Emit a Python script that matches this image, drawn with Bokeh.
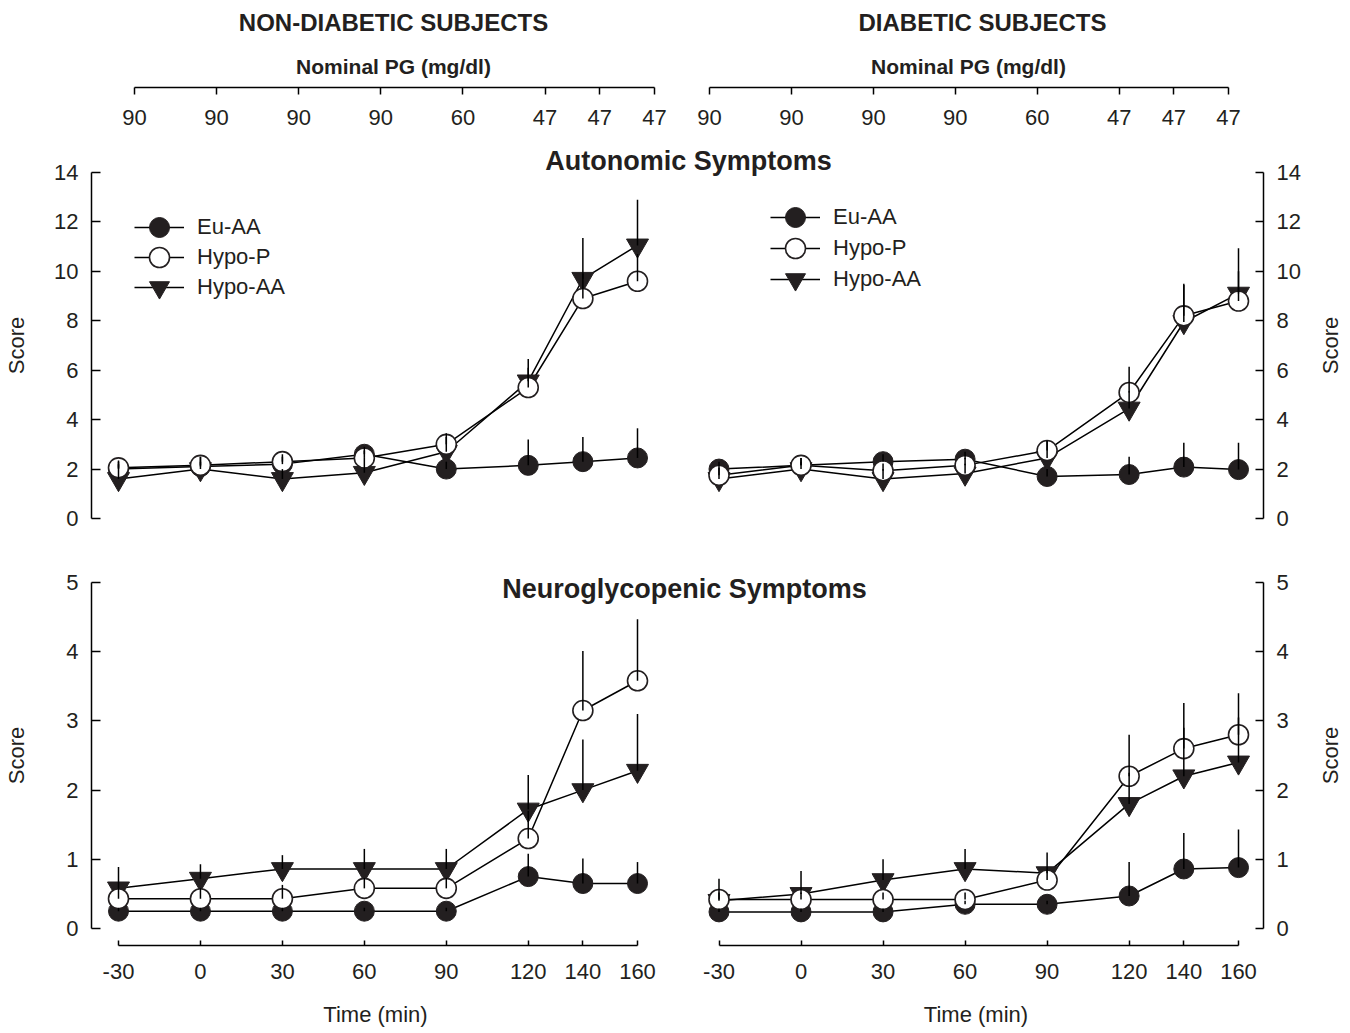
import math
from bokeh.plotting import figure
from bokeh.layouts import column, row
from bokeh.models import Range1d, FixedTicker, Legend, LegendItem, Label, LinearAxis
from bokeh.embed import file_html
from bokeh.resources import INLINE

# ---------------- data ----------------
time_min = [-30, 0, 30, 60, 90, 120, 140, 160]
time_labels = ["-30", "0", "30", "60", "90", "120", "140", "160"]
nominal_pg = ["90", "90", "90", "90", "60", "47", "47", "47"]
series_names = ["Eu-AA", "Hypo-P", "Hypo-AA"]

# Autonomic symptoms - non-diabetic subjects
aut_nd_eu = [2.0, 2.1, 2.2, 2.6, 2.0, 2.15, 2.3, 2.45]
aut_nd_eu_sem = [0.3, 0.4, 0.3, 0.3, 0.3, 1.05, 1.0, 1.2]
aut_nd_hp = [2.05, 2.15, 2.3, 2.45, 3.0, 5.3, 8.9, 9.6]
aut_nd_hp_sem = [0.3, 0.35, 0.3, 0.3, 0.45, 0.8, 1.0, 1.1]
aut_nd_ha = [1.6, 2.0, 1.6, 1.85, 2.7, 5.55, 9.7, 11.05]
aut_nd_ha_sem = [0.6, 0.3, 0.4, 0.6, 0.6, 0.9, 1.65, 1.85]

# Autonomic symptoms - diabetic subjects
aut_d_eu = [2.0, 2.15, 2.3, 2.4, 1.7, 1.78, 2.08, 1.98]
aut_d_eu_sem = [0.3, 0.3, 0.3, 0.3, 0.3, 0.72, 0.98, 1.08]
aut_d_hp = [1.75, 2.15, 1.93, 2.15, 2.75, 5.1, 8.2, 8.8]
aut_d_hp_sem = [0.3, 0.3, 0.3, 0.3, 0.4, 1.04, 1.3, 1.2]
aut_d_ha = [1.6, 2.0, 1.6, 1.82, 2.45, 4.45, 7.95, 9.1]
aut_d_ha_sem = [0.4, 0.3, 0.4, 0.4, 0.7, 0.7, 1.5, 1.83]

# Neuroglycopenic symptoms - non-diabetic subjects
neu_nd_eu = [0.25, 0.25, 0.25, 0.25, 0.25, 0.75, 0.65, 0.65]
neu_nd_eu_sem = [0.05, 0.05, 0.05, 0.05, 0.05, 0.33, 0.36, 0.31]
neu_nd_hp = [0.43, 0.43, 0.43, 0.58, 0.58, 1.3, 3.15, 3.58]
neu_nd_hp_sem = [0.15, 0.15, 0.2, 0.15, 0.15, 0.4, 0.86, 0.89]
neu_nd_ha = [0.58, 0.72, 0.86, 0.86, 0.86, 1.72, 2.0, 2.28]
neu_nd_ha_sem = [0.31, 0.21, 0.2, 0.29, 0.29, 0.5, 0.73, 0.82]

# Neuroglycopenic symptoms - diabetic subjects
neu_d_eu = [0.24, 0.24, 0.24, 0.35, 0.35, 0.47, 0.86, 0.88]
neu_d_eu_sem = [0.05, 0.05, 0.05, 0.05, 0.05, 0.49, 0.52, 0.55]
neu_d_hp = [0.42, 0.42, 0.42, 0.42, 0.7, 2.2, 2.6, 2.8]
neu_d_hp_sem = [0.1, 0.1, 0.1, 0.1, 0.15, 0.6, 0.66, 0.6]
neu_d_ha = [0.4, 0.5, 0.7, 0.86, 0.8, 1.8, 2.2, 2.4]
neu_d_ha_sem = [0.32, 0.33, 0.3, 0.29, 0.3, 0.45, 0.7, 0.65]

aut_ticks = [0, 2, 4, 6, 8, 10, 12, 14]
neu_ticks = [0, 1, 2, 3, 4, 5]

# ---------------- style / layout (page pixels) ----------------
FONT = "Liberation Sans"
INK = "#231f20"
LW = 1.5

PAGE_X0, PAGE_X1 = 0, 1345
PANEL_X0, PANEL_X1 = 50, 1305          # panel canvases; score strips on either side
FRAME_L, FRAME_R, SPLIT = 91, 1263, 688
TOP_AXIS_Y = 87
BOT_AXIS_Y = 945
TOP_STRIP = (0, 135)
TOP_FIG = (135, 540)
BOT_FIG = (540, 940)
BOT_STRIP = (940, 1033)


def lin(v0, p0, v1, p1):
    s = (v1 - v0) / (p1 - p0)
    return lambda p: v0 + (p - p0) * s


xl = lin(-30, 118, 160, 637)      # left panels
xr = lin(-30, 718.5, 160, 1238)   # right panels
xtl = lin(-30, 134, 160, 654)     # nominal PG axis, left
xtr = lin(-30, 709, 160, 1228)    # nominal PG axis, right
yt = lin(0, 518, 14, 172)
yb = lin(0, 928, 5, 582)


def base_fig(width, height, xrange, yrange, bl, br, bt, bb, **kw):
    p = figure(width=width, height=height, x_range=xrange, y_range=yrange,
               min_border_left=bl, min_border_right=br, min_border_top=bt,
               min_border_bottom=bb, toolbar_location=None, output_backend="svg", **kw)
    p.outline_line_color = None
    p.grid.visible = False
    p.background_fill_color = "white"
    p.border_fill_color = "white"
    return p


def style_axis(ax, tick_in, tick_out, standoff):
    ax.axis_line_color = "black"
    ax.axis_line_width = LW
    ax.major_tick_line_color = "black"
    ax.major_tick_line_width = LW
    ax.major_tick_in = tick_in
    ax.major_tick_out = tick_out
    ax.minor_tick_line_color = None
    ax.major_label_standoff = standoff
    ax.major_label_text_font = FONT
    ax.major_label_text_font_size = "22px"
    ax.major_label_text_color = INK
    ax.axis_label_text_font = FONT
    ax.axis_label_text_font_size = "22px"
    ax.axis_label_text_font_style = "normal"
    ax.axis_label_text_color = INK


def draw_panel(p, xname, eu, eu_sem, hp, hp_sem, ha, ha_sem):
    kw = {} if xname is None else {"x_range_name": xname}
    l_eu = p.line(time_min, eu, line_color="black", line_width=LW, **kw)
    l_hp = p.line(time_min, hp, line_color="black", line_width=LW, **kw)
    l_ha = p.line(time_min, ha, line_color="black", line_width=LW, **kw)
    m_eu = p.scatter(time_min, eu, marker="circle", size=20, fill_color=INK,
                     line_color=INK, line_width=1, **kw)
    m_ha = p.scatter(time_min, ha, marker="inverted_triangle", size=22, fill_color=INK,
                     line_color=INK, line_width=1, **kw)
    m_hp = p.scatter(time_min, hp, marker="circle", size=20, fill_color="white",
                     line_color=INK, line_width=1.6, **kw)
    for ys, es in ((eu, eu_sem), (hp, hp_sem), (ha, ha_sem)):
        top = [y + e for y, e in zip(ys, es)]
        p.segment(time_min, ys, time_min, top, line_color="black", line_width=LW, **kw)
    return [(series_names[0], l_eu, m_eu), (series_names[1], l_hp, m_hp),
            (series_names[2], l_ha, m_ha)]


def add_legend(p, entries, left_px, row_centers, frame_bottom):
    # one legend box per entry so that rows can sit closer than the glyph box
    for (name, l, m), c in zip(entries, row_centers):
        leg = Legend(items=[LegendItem(label=name, renderers=[l, m])],
                     location=(left_px - FRAME_L, frame_bottom - (c + 25)),
                     orientation="vertical", glyph_width=50, glyph_height=50,
                     label_height=24, label_standoff=13, spacing=0, padding=0, margin=0,
                     border_line_color=None, background_fill_alpha=0,
                     label_text_font=FONT, label_text_font_size="22px",
                     label_text_color=INK)
        p.add_layout(leg)


def panel_fig(y0, y1, ymap, ticks):
    p = base_fig(PANEL_X1 - PANEL_X0, y1 - y0, Range1d(xl(FRAME_L), xl(FRAME_R)),
                 Range1d(ymap(y1), ymap(y0)), FRAME_L - PANEL_X0, PANEL_X1 - FRAME_R, 0, 0,
                 x_axis_location=None, y_axis_location="left")
    p.extra_x_ranges = {"R": Range1d(xr(FRAME_L), xr(FRAME_R))}
    ax = p.yaxis[0]
    ax.ticker = FixedTicker(ticks=ticks)
    ax.bounds = (ticks[0], ticks[-1])
    style_axis(ax, 9, 0, 13)
    rax = LinearAxis(ticker=FixedTicker(ticks=ticks), bounds=(ticks[0], ticks[-1]))
    style_axis(rax, 8, 0, 13)
    p.add_layout(rax, "right")
    return p


def score_strip(c0, c1, y0, y1, ymap, cx, cy):
    p = base_fig(c1 - c0, y1 - y0, Range1d(c0, c1), Range1d(ymap(y1), ymap(y0)), 0, 0, 0, 0,
                 x_axis_location=None, y_axis_location=None)
    p.add_layout(Label(x=cx, y=ymap(cy), text="Score", angle=math.pi / 2,
                       text_align="center", text_baseline="middle", text_font=FONT,
                       text_font_size="22px", text_color=INK))
    return p


# ---------------- top strips (nominal PG axes) ----------------
def top_strip(c0, c1, fl, fr, fmap, head, head_px, pg_px):
    y0, y1 = TOP_STRIP
    p = base_fig(c1 - c0, y1 - y0, Range1d(fmap(fl), fmap(fr)), Range1d(0, TOP_AXIS_Y - y0),
                 fl - c0, c1 - fr, 0, y1 - TOP_AXIS_Y, y_axis_location=None)
    ax = p.xaxis[0]
    ax.ticker = FixedTicker(ticks=time_min)
    ax.major_label_overrides = {t: s for t, s in zip(time_min, nominal_pg)}
    ax.bounds = (time_min[0], time_min[-1])
    style_axis(ax, 0, 7, 15)
    p.add_layout(Label(x=fmap(head_px), y=TOP_AXIS_Y - 22, text=head, text_align="center",
                       text_baseline="middle", text_font=FONT, text_font_size="24px",
                       text_font_style="bold", text_color=INK))
    p.add_layout(Label(x=fmap(pg_px), y=TOP_AXIS_Y - 66, text="Nominal PG (mg/dl)",
                       text_align="center", text_baseline="middle", text_font=FONT,
                       text_font_size="21px", text_font_style="bold", text_color=INK))
    return p


ts_left = top_strip(PAGE_X0, SPLIT, FRAME_L, SPLIT, xtl, "NON-DIABETIC SUBJECTS", 393, 393)
ts_right = top_strip(SPLIT, PAGE_X1, SPLIT, FRAME_R, xtr, "DIABETIC SUBJECTS", 982, 968)

# ---------------- autonomic panels ----------------
p_aut = panel_fig(TOP_FIG[0], TOP_FIG[1], yt, aut_ticks)
ent_l = draw_panel(p_aut, None, aut_nd_eu, aut_nd_eu_sem, aut_nd_hp, aut_nd_hp_sem,
                   aut_nd_ha, aut_nd_ha_sem)
ent_r = draw_panel(p_aut, "R", aut_d_eu, aut_d_eu_sem, aut_d_hp, aut_d_hp_sem,
                   aut_d_ha, aut_d_ha_sem)
add_legend(p_aut, ent_l, 134, [227, 257, 287], TOP_FIG[1])
add_legend(p_aut, ent_r, 770, [217, 248, 279], TOP_FIG[1])
p_aut.add_layout(Label(x=xl(688), y=yt(160), text="Autonomic Symptoms", text_align="center",
                       text_baseline="middle", text_font=FONT, text_font_size="27px",
                       text_font_style="bold", text_color=INK))
sl_aut = score_strip(PAGE_X0, PANEL_X0, TOP_FIG[0], TOP_FIG[1], yt, 16, 345)
sr_aut = score_strip(PANEL_X1, PAGE_X1, TOP_FIG[0], TOP_FIG[1], yt, 1330, 345)

# ---------------- neuroglycopenic panels ----------------
p_neu = panel_fig(BOT_FIG[0], BOT_FIG[1], yb, neu_ticks)
draw_panel(p_neu, None, neu_nd_eu, neu_nd_eu_sem, neu_nd_hp, neu_nd_hp_sem,
           neu_nd_ha, neu_nd_ha_sem)
draw_panel(p_neu, "R", neu_d_eu, neu_d_eu_sem, neu_d_hp, neu_d_hp_sem,
           neu_d_ha, neu_d_ha_sem)
p_neu.add_layout(Label(x=xl(684), y=yb(588), text="Neuroglycopenic Symptoms",
                       text_align="center", text_baseline="middle", text_font=FONT,
                       text_font_size="27px", text_font_style="bold", text_color=INK))
sl_neu = score_strip(PAGE_X0, PANEL_X0, BOT_FIG[0], BOT_FIG[1], yb, 16, 755)
sr_neu = score_strip(PANEL_X1, PAGE_X1, BOT_FIG[0], BOT_FIG[1], yb, 1330, 755)


# ---------------- bottom strips (time axes) ----------------
def bottom_strip(c0, c1, fl, fr, fmap):
    y0, y1 = BOT_STRIP
    p = base_fig(c1 - c0, y1 - y0, Range1d(fmap(fl), fmap(fr)), Range1d(0, 1),
                 fl - c0, c1 - fr, 0, y1 - BOT_AXIS_Y, y_axis_location=None)
    ax = p.xaxis[0]
    ax.ticker = FixedTicker(ticks=time_min)
    ax.major_label_overrides = {t: s for t, s in zip(time_min, time_labels)}
    ax.bounds = (time_min[0], time_min[-1])
    ax.axis_label = "Time (min)"
    style_axis(ax, BOT_AXIS_Y - y0, 0, 18)
    ax.axis_label_standoff = 20
    return p


# left frame edge chosen so that the axis title centres under the left panel
bs_left = bottom_strip(PAGE_X0, SPLIT, 62, SPLIT, xl)
bs_right = bottom_strip(SPLIT, PAGE_X1, SPLIT, FRAME_R, xr)

layout = column(row(ts_left, ts_right),
                row(sl_aut, p_aut, sr_aut),
                row(sl_neu, p_neu, sr_neu),
                row(bs_left, bs_right))
open("out.html", "w").write(file_html(layout, INLINE))
